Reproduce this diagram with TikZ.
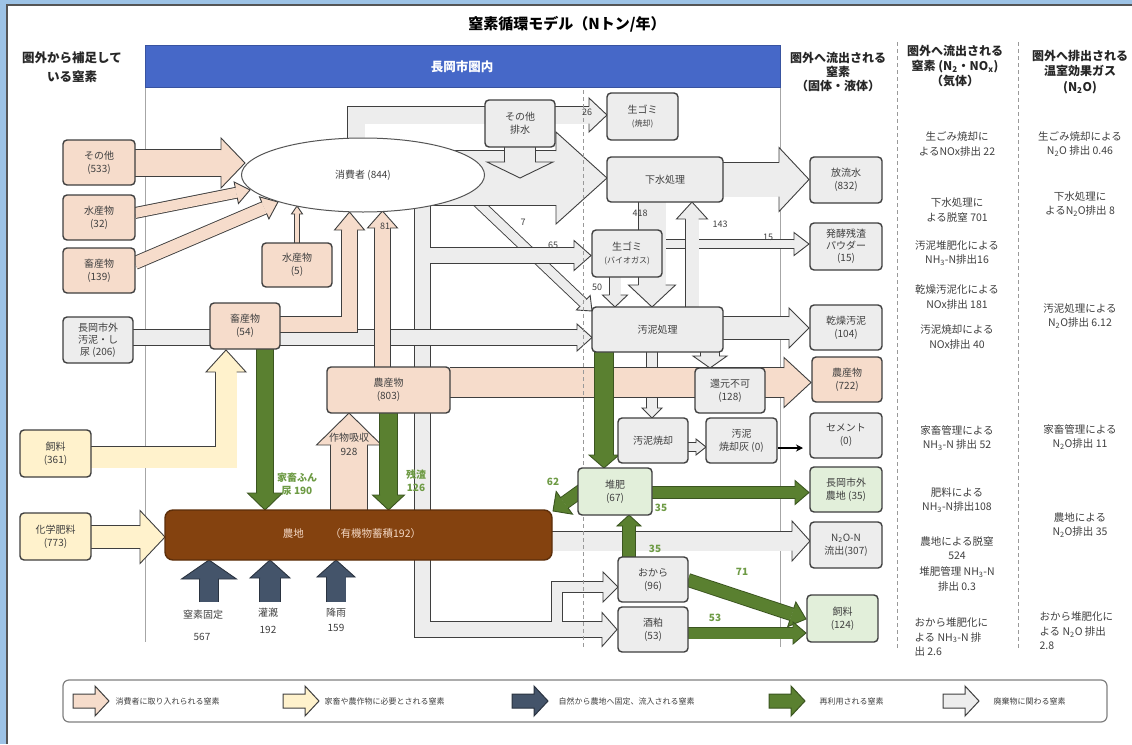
\documentclass[tikz,border=0pt]{standalone}
\usepackage{fontspec}
\setmainfont{Noto Sans CJK JP}
\usetikzlibrary{calc,arrows.meta,shapes.geometric}
\definecolor{bgblue}{HTML}{9DC3E6}
\definecolor{frameg}{HTML}{555555}
\definecolor{banner}{HTML}{4668C8}
\definecolor{peach}{HTML}{F6DCCB}
\definecolor{yel}{HTML}{FFF2CC}
\definecolor{grayf}{HTML}{EDEDED}
\definecolor{greenf}{HTML}{E2EFDA}
\definecolor{garrow}{HTML}{5A8030}
\definecolor{garrowe}{HTML}{3B5520}
\definecolor{darrow}{HTML}{44546A}
\definecolor{darrowe}{HTML}{2A3340}
\definecolor{brownf}{HTML}{84420F}
\definecolor{nouchitxt}{HTML}{F4D9C6}
\definecolor{boxe}{HTML}{3F3F3F}
\definecolor{txt}{HTML}{404040}
\definecolor{gtxt}{HTML}{6E9B45}
\colorlet{edgec}{boxe}
\pgfdeclarelayer{back}\pgfdeclarelayer{arr}
\pgfsetlayers{back,arr,main}
\newcommand\fs[2]{\fontsize{#1}{#2}\selectfont}
% arrow head: color, shaft w, head w, head length, (from), (tip)
\newcommand\AH[6]{%
  \pgfmathsetmacro\hsw{#2/2}\pgfmathsetmacro\hhw{#3/2}%
  \coordinate (hb) at ($#6!#4pt!#5$);%
  \fill[#1] ($(hb)!\hhw pt!90:#6$) -- #6 -- ($(hb)!\hhw pt!-90:#6$) -- cycle;%
  \draw[edgec,line width=0.9pt,line join=miter] ($(hb)!\hsw pt!90:#6$) -- ($(hb)!\hhw pt!90:#6$) -- #6 -- ($(hb)!\hhw pt!-90:#6$) -- ($(hb)!\hsw pt!-90:#6$);}
% straight block arrow
\newcommand\AR[6]{%
  \coordinate (hbz) at ($#6!#4pt!#5$);%
  \draw[edgec,line width=#2pt+1.8pt] #5 -- (hbz);%
  \draw[#1,line width=#2pt] #5 -- (hbz);%
  \AH{#1}{#2}{#3}{#4}{#5}{#6}}
\newcommand\SO[2]{\draw[edgec,line width=#1pt+1.8pt,line join=miter] #2;}
\newcommand\SF[3]{\draw[#1,line width=#2pt,line join=miter] #3;}
\newcommand\LA[3]{\filldraw[fill=#1,draw=#2,line width=1pt,line join=miter] (#3,694) -- ++(22,0) -- ++(0,-8) -- ++(14,15) -- ++(-14,15) -- ++(0,-8) -- ++(-22,0) -- cycle;}
\begin{document}
\begin{tikzpicture}[x=1pt,y=-1pt,
  box/.style={draw=boxe,line width=1.4pt,rounded corners=4pt,align=center,text=txt,font=\fs{10}{13},inner sep=1pt},
  pbox/.style={box,fill=peach}, gbox/.style={box,fill=grayf},
  ybox/.style={box,fill=yel}, grbox/.style={box,fill=greenf},
  sz/.style 2 args={minimum width=#1pt,minimum height=#2pt},
  num/.style={font=\fs{9}{11},text=txt},
  gnum/.style={font=\bfseries\fs{10}{13},text=gtxt,align=center},
  col/.style={font=\fs{10.5}{14.5},text=txt,align=center},
  colw/.style={font=\fs{10.5}{14.5},text=txt,align=left,anchor=west},
  hdr/.style={font=\bfseries\fs{12.5}{15},align=center,text=black!85},
  lg/.style={font=\fs{8}{10},text=txt,anchor=west}]
\useasboundingbox (0,0) rectangle (1132,744);
\begin{pgfonlayer}{back}
\fill[bgblue] (0,0) rectangle (1132,744);
\fill[white] (7,5) rectangle (1132,744);
\draw[frameg,line width=1.6pt] (7,744) -- (7,5) -- (1132,5);
\end{pgfonlayer}

% ---------- headers ----------
\node[font=\bfseries\fs{15}{18}] (title) at (567,24) {窒素循環モデル（Nトン/年）};
\node[hdr,font=\bfseries\fs{12.5}{19}] (hl) at (72,67) {圏外から補足して\\いる窒素};
\node[fill=banner,draw=banner!80!black,minimum width=635pt,minimum height=42pt,inner sep=0,anchor=north west] (banner) at (145,45) {};
\node[font=\bfseries\fs{12.5}{15},text=white] (bt) at (462,67) {長岡市圏内};
\node[hdr,font=\bfseries\fs{12}{14}] (h1) at (838,72) {圏外へ流出される\\窒素\\（固体・液体）};
\node[hdr,font=\bfseries\fs{12}{15}] (h2) at (955,66) {圏外へ流出される\\窒素 (N\textsubscript{2}・NO\textsubscript{x})\\（気体）};
\node[hdr,font=\bfseries\fs{12}{15.5}] (h3) at (1080,72) {圏外へ排出される\\温室効果ガス\\(N\textsubscript{2}O)};

% ---------- boxes ----------
\node[pbox,sz={72}{45}] (sonota) at (99,162.5) {その他\\(533)};
\node[pbox,sz={72}{45}] (suisan32) at (99,217.5) {水産物\\(32)};
\node[pbox,sz={72}{45}] (chiku139) at (99,270.5) {畜産物\\(139)};
\node[gbox,sz={70}{46},font=\fs{10}{12}] (gaibu) at (98,340) {長岡市外\\汚泥・し\\尿 (206)};
\node[ybox,sz={71}{47}] (shiryoA) at (55.5,453.5) {飼料\\(361)};
\node[ybox,sz={71}{47}] (kagaku) at (55.5,536.5) {化学肥料\\(773)};
\node[ellipse,draw=frameg,fill=white,line width=1pt,minimum width=243pt,minimum height=74pt,inner sep=0,font=\fs{10}{13},text=txt] (cons) at (363,175) {消費者 (844)};
\node[gbox,sz={70}{47}] (haisui) at (520,123.5) {その他\\排水};
\node[gbox,sz={71}{47}] (gomiS) at (642.5,116.5) {生ゴミ\\{\fs{8}{10}(焼却)}};
\node[gbox,sz={116}{45}] (gesui) at (665,179.5) {下水処理};
\node[gbox,sz={70}{47}] (gomiB) at (627,253.5) {生ゴミ\\{\fs{8}{10}(バイオガス)}};
\node[gbox,sz={131}{45}] (odei) at (657.5,329.5) {汚泥処理};
\node[gbox,sz={70}{45}] (kangen) at (730,390.5) {還元不可\\(128)};
\node[gbox,sz={70}{45}] (shokyaku) at (653,440.5) {汚泥焼却};
\node[gbox,sz={71}{45}] (hai) at (741.5,440.5) {汚泥\\焼却灰 (0)};
\node[grbox,sz={74}{47}] (taihi) at (615,491.5) {堆肥\\(67)};
\node[gbox,sz={70}{45}] (okara) at (653,579.5) {おから\\(96)};
\node[gbox,sz={70}{45}] (sake) at (653,629.5) {酒粕\\(53)};
\node[pbox,sz={70}{46}] (chiku54) at (245,326) {畜産物\\(54)};
\node[pbox,sz={123}{46}] (nousan) at (388.5,390) {農産物\\(803)};
\node[pbox,sz={70}{44}] (suisan5) at (297,265) {水産物\\(5)};
\node[box,fill=brownf,draw=brownf!70!black,rounded corners=8pt,sz={387}{50}] (nouchi) at (358.5,535) {};
\node[text=nouchitxt,font=\fs{10.5}{13}] (nouchit) at (352,534) {農地\hspace{2.5em}（有機物蓄積192）};
\node[gbox,sz={72}{46}] (houryu) at (846,180) {放流水\\(832)};
\node[gbox,sz={72}{47},font=\fs{10}{12}] (hakko) at (846,246.5) {発酵残渣\\パウダー\\(15)};
\node[gbox,sz={72}{45}] (kansou) at (846,327.5) {乾燥汚泥\\(104)};
\node[pbox,sz={70}{45}] (nousanB) at (847,379.5) {農産物\\(722)};
\node[gbox,sz={72}{45}] (cement) at (846,435.5) {セメント\\(0)};
\node[grbox,sz={72}{45}] (gaichi) at (846,489.5) {長岡市外\\農地 (35)};
\node[gbox,sz={72}{46}] (nitro) at (846,545) {N\textsubscript{2}O-N\\流出(307)};
\node[grbox,sz={71}{47}] (shiryoB) at (842.5,618.5) {飼料\\(124)};

% ---------- flow labels ----------
\node[num] (l26) at (587,112) {26};
\node[num] (l7) at (523,222) {7};
\node[num] (l65) at (553,245) {65};
\node[num] (l50) at (597,287) {50};
\node[num] (l418) at (640,213) {418};
\node[num] (l143) at (720,224) {143};
\node[num] (l15) at (768,237) {15};
\node[num] (l81) at (385,226) {81};
\node[font=\fs{10}{14},text=txt,align=center] (l928) at (349,444) {作物吸収\\928};
\node[gnum] (l190) at (297,484) {家畜ふん\\尿 190};
\node[gnum] (l126) at (416,481) {残渣\\126};
\node[gnum] (l62) at (553,482) {62};
\node[gnum] (l35a) at (661,508) {35};
\node[gnum] (l35b) at (655,549) {35};
\node[gnum] (l71) at (742,572) {71};
\node[gnum] (l53) at (715,618) {53};
\node[font=\fs{10}{12},text=txt] (n1) at (203,615) {窒素固定};
\node[font=\fs{10}{12},text=txt] (n1v) at (202,637) {567};
\node[font=\fs{10}{12},text=txt] (n2) at (268,613) {灌漑};
\node[font=\fs{10}{12},text=txt] (n2v) at (268,630) {192};
\node[font=\fs{10}{12},text=txt] (n3) at (336,613) {降雨};
\node[font=\fs{10}{12},text=txt] (n3v) at (336,628) {159};

% ---------- right columns ----------
\node[col] (c1) at (957,144) {生ごみ焼却に\\よるNOx排出 22};
\node[col] (c2) at (957,210) {下水処理に\\よる脱窒 701};
\node[col] (c3) at (957,253) {汚泥堆肥化による\\NH\textsubscript{3}-N排出16};
\node[col] (c4) at (957,297) {乾燥汚泥化による\\NOx排出 181};
\node[col] (c5) at (957,337) {汚泥焼却による\\NOx排出 40};
\node[col] (c6) at (957,438) {家畜管理による\\NH\textsubscript{3}-N 排出 52};
\node[col] (c7) at (957,500) {肥料による\\NH\textsubscript{3}-N排出108};
\node[col] (c8) at (957,548) {農地による脱窒\\524};
\node[col] (c9) at (957,579) {堆肥管理 NH\textsubscript{3}-N\\排出 0.3};
\node[colw] (c10) at (911,637) {おから堆肥化に\\よる NH\textsubscript{3}-N 排\\出 2.6};
\node[col] (d1) at (1080,144) {生ごみ焼却による\\N\textsubscript{2}O 排出 0.46};
\node[col] (d2) at (1080,204) {下水処理に\\よるN\textsubscript{2}O排出 8};
\node[col] (d3) at (1080,316) {汚泥処理による\\N\textsubscript{2}O排出 6.12};
\node[col] (d4) at (1080,437) {家畜管理による\\N\textsubscript{2}O排出 11};
\node[col] (d5) at (1080,525) {農地による\\N\textsubscript{2}O排出 35};
\node[colw] (d6) at (1036,631) {おから堆肥化に\\よる N\textsubscript{2}O 排出\\2.8};

% ---------- legend ----------
\draw[rounded corners=6pt,draw=gray,line width=1.2pt,fill=white] (63,680) rectangle (1107,722);
\LA{peach}{boxe}{73}
\node[lg] (g1) at (112,701) {消費者に取り入れられる窒素};
\LA{yel}{boxe}{283}
\node[lg] (g2) at (321,701) {家畜や農作物に必要とされる窒素};
\LA{darrow}{darrowe}{512}
\node[lg] (g3) at (555,701) {自然から農地へ固定、流入される窒素};
\LA{garrow}{garrowe}{769}
\node[lg] (g4) at (816,701) {再利用される窒素};
\LA{grayf}{boxe}{943}
\node[lg] (g5) at (990,701) {廃棄物に関わる窒素};

% ---------- arrows ----------
\begin{pgfonlayer}{arr}
\draw[gray!70,line width=1pt] (145,87) -- (145,642);
\draw[gray!70,line width=1pt] (780,87) -- (780,647);
\draw[gray!80,line width=1pt,dash pattern=on 4pt off 3pt] (897,42) -- (897,650);
\draw[gray!80,line width=1pt,dash pattern=on 4pt off 3pt] (1018,42) -- (1018,650);
% waste (gray)
\AR{grayf}{9}{20}{12}{(470,195)}{(592,311)}
\AR{grayf}{54}{92}{51}{(430,178)}{(607,178)}
\AR{grayf}{30}{66}{16}{(520,147)}{(520,178)}
\SO{17}{(356,150) -- (356,115) -- (589,115)}
\SF{grayf}{17}{(356,150) -- (356,115) -- (589,115)}
\AH{grayf}{17}{34}{18}{(500,115)}{(607,115)}
\SO{15}{(422.5,195) -- (422.5,629.5) -- (602,629.5)}
\SO{15}{(422.5,255.5) -- (574,255.5)}
\SO{10}{(557,629.5) -- (557,587) -- (603,587)}
\SF{grayf}{15}{(422.5,195) -- (422.5,629.5) -- (602,629.5)}
\SF{grayf}{15}{(422.5,255.5) -- (574,255.5)}
\SF{grayf}{10}{(557,629.5) -- (557,587) -- (603,587)}
\AH{grayf}{15}{34}{15}{(500,629.5)}{(617,629.5)}
\AH{grayf}{15}{30}{17}{(500,255.5)}{(591,255.5)}
\AH{grayf}{10}{30}{15}{(580,587)}{(618,587)}
\AR{grayf}{15}{27}{15}{(133,337.5)}{(592,337.5)}
\AR{grayf}{34}{64}{30}{(723,179.5)}{(809,179.5)}
\AR{grayf}{8}{23}{15}{(662,244)}{(809,244)}
\AR{grayf}{11}{25}{12}{(615,277)}{(615,307)}
\AR{grayf}{27}{47}{22}{(652,202)}{(652,307)}
\AR{grayf}{13}{31}{17}{(692,307)}{(692,202)}
\AR{grayf}{22}{40}{20}{(723,328)}{(809,328)}
\AR{grayf}{18}{34}{12}{(710,352)}{(710,368)}
\AR{grayf}{10}{20}{10}{(652,352)}{(652,418)}
\AR{grayf}{8}{16}{10}{(688,447)}{(706,447)}
\draw[black,line width=1.6pt,-{Stealth[length=7pt,width=7pt]}] (hai.east |- 0,448) -- (803,448);
\AR{grayf}{19}{40}{18}{(552,541)}{(810,541)}
% consumer (peach)
\AR{peach}{26}{50}{24}{(135,163)}{(245,163)}
\AR{peach}{10}{22}{14}{(135,213)}{(250,190)}
\AR{peach}{12}{24}{15}{(135,263)}{(278,202)}
\SO{15}{(280,324.5) -- (349.5,324.5) -- (349.5,230)}
\SF{peach}{15}{(280,324.5) -- (349.5,324.5) -- (349.5,230)}
\AH{peach}{15}{30}{18}{(349.5,300)}{(349.5,212)}
\AR{peach}{15}{30}{17}{(382.5,367)}{(382.5,211)}
\AR{peach}{4}{11}{8}{(297,243)}{(297,206)}
\AR{peach}{36}{65}{32}{(349,510)}{(349,413)}
\AR{peach}{29}{50}{27}{(450,382.5)}{(811,382.5)}
% yellow
\SO{21}{(91,457) -- (226,457) -- (226,372)}
\SF{yel}{21}{(91,457) -- (226,457) -- (226,372)}
\AH{yel}{21}{40}{22}{(226,400)}{(226,350)}
\AR{yel}{22}{53}{25}{(91,537)}{(165,537)}
% nature (dark)
\colorlet{edgec}{darrowe}
\AR{darrow}{18}{55}{19}{(209,602)}{(209,560)}
\AR{darrow}{20}{40}{18}{(270,602)}{(270,560)}
\AR{darrow}{19}{38}{17}{(336,602)}{(336,560)}
% recycled (green)
\colorlet{edgec}{garrowe}
\AR{garrow}{16}{35}{17}{(265,349)}{(265,510)}
\AR{garrow}{17}{32}{15}{(388.5,413)}{(388.5,510)}
\AR{garrow}{18}{30}{13}{(604,352)}{(604,468)}
\AR{garrow}{11}{24}{14}{(652,492.5)}{(809,492.5)}
\AR{garrow}{12}{28}{14}{(585,488)}{(553,511)}
\AR{garrow}{12}{24}{11}{(629,557)}{(629,515)}
\AR{garrow}{12}{26}{15}{(688,580)}{(806,619)}
\AR{garrow}{11}{22}{13}{(688,633)}{(806,633)}
\colorlet{edgec}{boxe}
\draw[gray!80,line width=1pt,dash pattern=on 4pt off 3pt] (583,90) -- (583,648);
\end{pgfonlayer}
\end{tikzpicture}
\end{document}
